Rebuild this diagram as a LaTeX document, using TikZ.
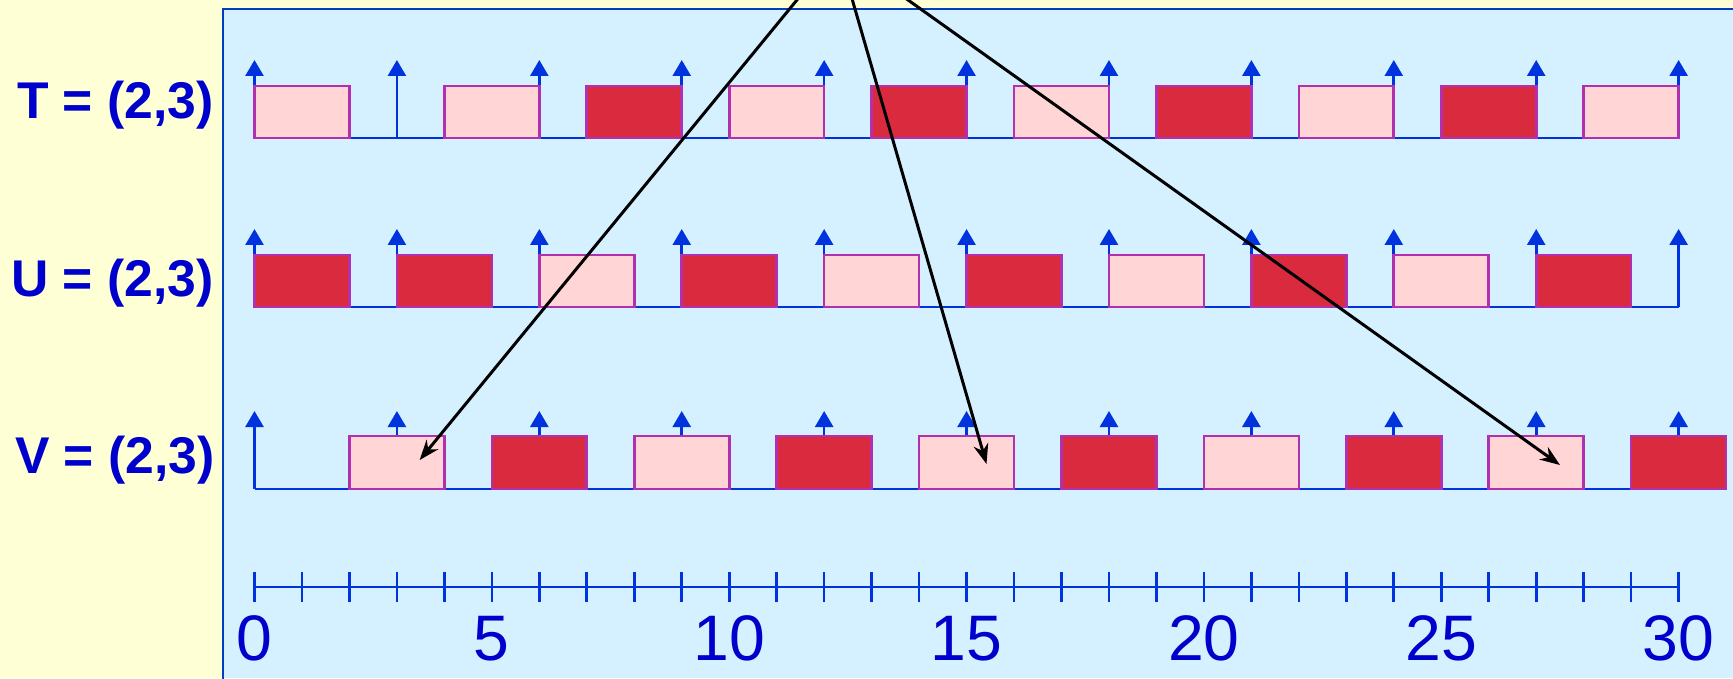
\documentclass[tikz,border=0pt]{standalone}
\usepackage{fontspec}
\setmainfont{Liberation Sans}
\usetikzlibrary{arrows.meta}
\definecolor{bgyellow}{HTML}{FFFFD5}
\definecolor{panelblue}{HTML}{D5F0FF}
\definecolor{frameblue}{HTML}{0040C0}
\definecolor{lineblue}{HTML}{0033DD}
\definecolor{textblue}{HTML}{0000CC}
\definecolor{jobred}{HTML}{DA2A3E}
\definecolor{jobpink}{HTML}{FFD5D5}
\definecolor{jobedge}{HTML}{B030B0}

\begin{document}
\begin{tikzpicture}[
  line width=0.75pt,
  release/.style={lineblue, -{Triangle[length=1.6mm, width=1.8mm]}},
  lightjob/.style={fill=jobpink, draw=jobedge},
  darkjob/.style={fill=jobred, draw=jobedge},
  rowlabel/.style={textblue, font=\fontsize{14.7}{16}\selectfont\bfseries,
    anchor=base east, inner sep=0pt},
  ticklabel/.style={textblue, font=\fontsize{18.3}{20}\selectfont,
    anchor=base, inner sep=0pt},
  pointer/.style={black, line width=0.85pt, -{Stealth[length=2mm, width=1.5mm]}}
]

% Background
\useasboundingbox (0,0) rectangle (17.33,6.78);
\clip (0,0) rectangle (17.33,6.78);
\fill[bgyellow] (0,0) rectangle (17.33,6.78);
\fill[panelblue] (2.23,0) rectangle (17.5,6.69);
\draw[frameblue, line width=0.85pt] (2.23,-0.1) -- (2.23,6.69) -- (17.5,6.69);

% ── Row labels ──
\node[rowlabel] (labT) at (2.15,5.59) {T = (2,3)};
\node[rowlabel] (labU) at (2.15,3.82) {U = (2,3)};
\node[rowlabel] (labV) at (2.16,2.05) {V = (2,3)};

% ── Time lines, one unit = 0.4747cm ──
\begin{scope}[shift={(2.545,0)}, x=0.4747cm]

  % T row (baseline 5.40)
  \draw[lineblue] (0,5.40) -- (30,5.40);
  \foreach \tr in {0,3,...,30} \draw[release] (\tr,5.40) -- (\tr,6.18);
  \foreach \s in {0,4,10,16,22,28} \draw[lightjob] (\s,5.40) rectangle ++(2,0.52);
  \foreach \s in {7,13,19,25} \draw[darkjob] (\s,5.40) rectangle ++(2,0.52);

  % U row (baseline 3.71)
  \draw[lineblue] (0,3.71) -- (30,3.71);
  \foreach \tr in {0,3,...,30} \draw[release] (\tr,3.71) -- (\tr,4.49);
  \foreach \s in {6,12,18,24} \draw[lightjob] (\s,3.71) rectangle ++(2,0.52);
  \foreach \s in {0,3,9,15,21,27} \draw[darkjob] (\s,3.71) rectangle ++(2,0.52);

  % V row (baseline 1.89)
  \draw[lineblue] (0,1.89) -- (30,1.89);
  \foreach \tr in {0,3,...,30} \draw[release] (\tr,1.89) -- (\tr,2.67);
  \foreach \s in {2,8,14,20,26} \draw[lightjob] (\s,1.89) rectangle ++(2,0.53);
  \foreach \s in {5,11,17,23,29} \draw[darkjob] (\s,1.89) rectangle ++(2,0.53);

  % ── Time axis ──
  \draw[lineblue] (0,0.91) -- (30,0.91);
  \foreach \k in {0,...,30} \draw[lineblue] (\k,0.76) -- (\k,1.06);
  \foreach \k in {0,5,...,30} \node[ticklabel] (tick\k) at (\k,0.18) {\k};

  % ── Pointers from above into the V jobs ──
  \coordinate (src) at (12.29,7.28);
  \coordinate (hitA) at (3.48,2.18);
  \coordinate (hitB) at (15.42,2.14);
  \coordinate (hitC) at (27.5,2.13);
  \draw[pointer] (src) -- (hitA);
  \draw[pointer] (src) -- (hitB);
  \draw[pointer] (src) -- (hitC);
\end{scope}

\end{tikzpicture}
\end{document}
